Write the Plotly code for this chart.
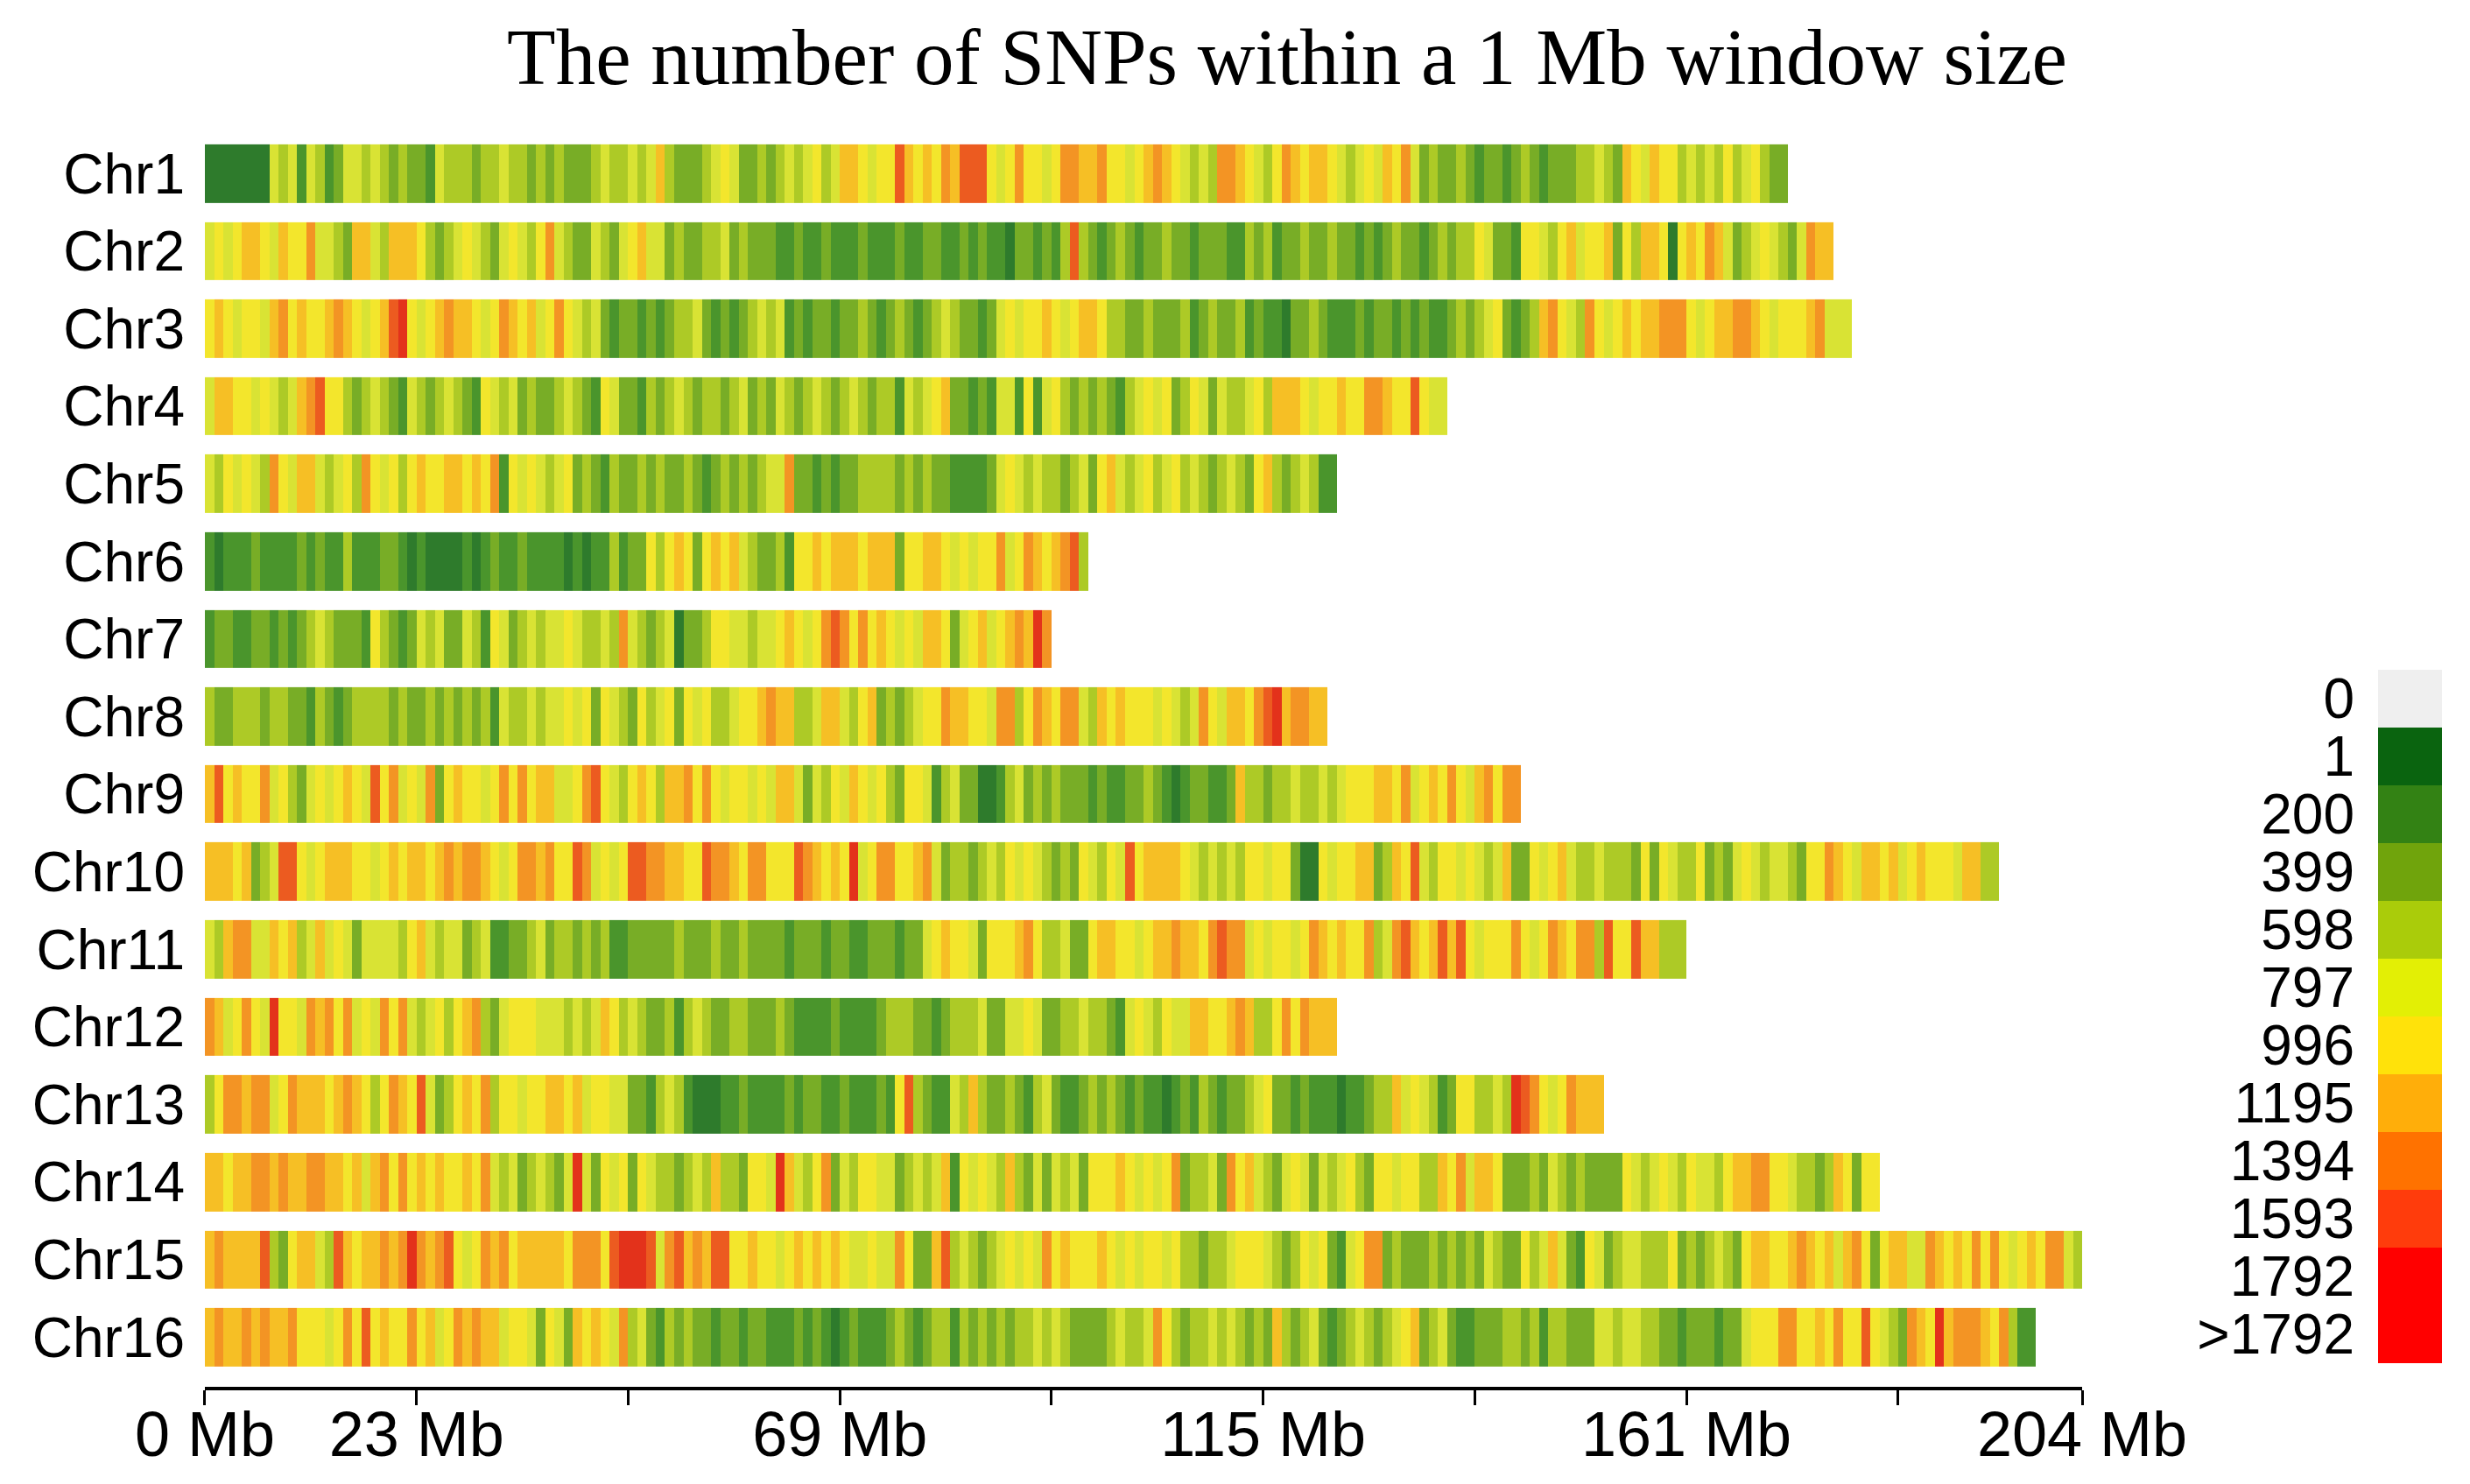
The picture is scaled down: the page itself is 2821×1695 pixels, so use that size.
import plotly.graph_objects as go

CHROMOSOMES = ["Chr1", "Chr2", "Chr3", "Chr4", "Chr5", "Chr6", "Chr7", "Chr8",
               "Chr9", "Chr10", "Chr11", "Chr12", "Chr13", "Chr14", "Chr15", "Chr16"]

# SNP-density class of every 1 Mb window, one character per window.
# 1 = 1-199, 2 = 200-398, 3 = 399-597, 4 = 598-796, 5 = 797-995, 6 = 996-1194,
# 7 = 1195-1393, 8 = 1394-1592, 9 = 1593-1791, a = 1792 and more
SNP_CLASSES = [
    "1111111545 2542355454 3433254443 4454434343 3345445457 4333456533 4345456457 7656697676 8799965686 6568877866 "
    "5678765454 8876546876 7765456576 8534334323 3234323334 4543765766 4545464564 33",
    "5656776576 6855437754 7776434565 4356546854 3354356755 3433445343 3322322322 2322232233 2232322133 2324943234 "
    "3233433233 3224342334 3343323234 3323434465 3326654675 6673647761 6768753456 5435877",
    "6765665786 7667876567 9a65678776 5687675686 5453233232 3445323234 5452323323 3432343234 5433235656 6765677644 "
    "3343334234 3342322133 4322232332 3232234345 6323478654 8656767788 8656778876 566678555",
    "5776656545 7896643454 3254345432 6545343345 4326533243 4543443453 4354345434 5434425456 7332325526 2564343432 "
    "4565634653 5445647776 5667668876 69655",
    "5465654865 7754564865 6467667767 6826565456 3432433434 3343234343 4558332323 3444434343 3222235654 5443453675 "
    "4564564543 4543674345 422",
    "2122232222 3232242223 3212111121 2322322221 2122423364 6763676754 3342667677 7677736677 6565668568 767894",
    "2332233232 3454333264 3235453354 2653454556 5445485434 5133466554 5567656898 6867656577 6356756787 a8",
    "4334443443 3243234444 3433434343 4254454556 5636543645 6365644566 7877445775 4673434566 8776658846 8768854767 "
    "6665654586 577689a788 77",
    "7967668564 3565676596 8565836766 5686867755 6896546764 7786865665 6577535465 7656436652 4533112453 4343332322 "
    "3343212332 2374434454 4545666776 8567686578 688",
    "7776734599 6567776656 7677678788 7656887866 9856569988 7766988768 8666987676 a568866785 3443454656 5434365465 "
    "9677776545 4546656631 1656677347 6954665654 5733656754 4544436365 4463435654 5543668765 7767567666 57744",
    "5478855767 4575653555 5467545534 5223345344 3434223333 3433343343 3332333233 2233323356 7665366678 6445336776 "
    "6567787768 9885656656 8767668458 9767979656 6686568768 8496697744 4",
    "8756865a66 5878685658 6854564678 4356665554 5457645433 4245433443 3343222232 2223444332 3444533556 5334454432 "
    "5654655776 6787446868 777",
    "4688788568 7776787646 8769534676 8466566776 7566553324 5421112232 2223233223 2223269432 2547433432 4532234343 "
    "2322123243 2334563323 2221223447 5654236644 54a9865687 77",
    "7767788787 7887767578 6867676676 8545345435 a536563654 4345474436 65a7546835 4665534545 7265654743 5354536667 "
    "6565683445 3867543565 3545643665 6644768577 6333435434 3333654565 4655467788 665443476366",
    "7877779436 7754976778 78a8789656 8786777776 88869aaa95 8978799667 6656767676 5565586337 9454345656 5867666765 "
    "6566564434 4566654346 5632568834 3334343435 4336457532 6534554446 3434543677 6678767578 6367755876 7686865676 "
    "8854",
    "7877878778 6665686967 6686756878 7756653653 7676584532 4343323323 3222323212 3222343234 4243434344 5454333345 "
    "4458643445 4543437434 5323454345 6734532233 3443424433 3554554433 2333233566 6886676866 96543876a7 888768422",
]

LEGEND_LABELS = ["0", "1", "200", "399", "598", "797", "996", "1195", "1394", "1593", "1792", ">1792"]
LEGEND_CLASSES = [0, 1, 2, 3, 4, 5, 6, 7, 8, 9, 10, 10]

AXIS_TICKS = [0, 23, 46, 69, 92, 115, 138, 161, 184, 204]
AXIS_LABELS = ["0 Mb", "23 Mb", "", "69 Mb", "", "115 Mb", "", "161 Mb", "", "204 Mb"]
AXIS_MAX = 204

# colours of the classes 1..10 as they appear in the bars, and in the key (0..10)
BAR_COLORS = ["#2e7b2c", "#4a952c", "#78ad26", "#adca26", "#d9e334",
              "#f3e62c", "#f6bf25", "#f39424", "#ec5b20", "#e3321b"]
KEY_COLORS = ["#efefef", "#0a640f", "#338214", "#70a40c", "#aacc0a", "#e3ef05",
              "#ffe20a", "#ffae0a", "#ff7200", "#ff3c0c", "#ff0000"]

SANS = "Liberation Sans, Arial, sans-serif"
SERIF = "Liberation Serif, Times New Roman, serif"


def discrete_scale(colors):
    n = len(colors)
    scale = []
    for i, c in enumerate(colors):
        scale.append([i / n, c])
        scale.append([(i + 1) / n, c])
    return scale


rows = []
for s in SNP_CLASSES:
    codes = [int(c, 16) for c in s.replace(" ", "")]
    rows.append(codes + [None] * (AXIS_MAX - len(codes)))

bins = [i + 0.5 for i in range(AXIS_MAX)]

fig = go.Figure()
fig.add_trace(go.Heatmap(
    x=bins,
    y=list(range(len(CHROMOSOMES))),
    z=rows,
    colorscale=discrete_scale(BAR_COLORS),
    zmin=0.5,
    zmax=10.5,
    ygap=22,
    showscale=False,
    hoverongaps=False,
))
fig.add_trace(go.Heatmap(
    x=[0],
    y=list(range(len(LEGEND_LABELS))),
    z=[[v] for v in LEGEND_CLASSES],
    colorscale=discrete_scale(KEY_COLORS),
    zmin=-0.5,
    zmax=10.5,
    showscale=False,
    xaxis="x2",
    yaxis="y2",
))

fig.update_layout(
    template="none",
    width=2821,
    height=1695,
    paper_bgcolor="white",
    plot_bgcolor="white",
    margin=dict(l=20, r=20, t=145, b=111, autoexpand=False),
    showlegend=False,
    title=dict(
        text="The number of SNPs within a 1 Mb window size",
        font=dict(family=SERIF, size=91, color="black"),
        xref="paper",
        x=0.5214,
        xanchor="center",
        y=0.962,
        yanchor="middle",
    ),
    xaxis=dict(
        domain=[0.07695, 0.84790],
        range=[0, AXIS_MAX],
        tickvals=AXIS_TICKS,
        ticktext=AXIS_LABELS,
        ticks="outside",
        ticklen=17,
        tickwidth=2.5,
        tickcolor="black",
        showline=True,
        linewidth=4,
        linecolor="black",
        showgrid=False,
        zeroline=False,
        automargin=False,
        tickfont=dict(family=SANS, size=72, color="black"),
        ticklabelstandoff=-28,
    ),
    yaxis=dict(
        range=[15.64, -0.6],
        tickvals=list(range(len(CHROMOSOMES))),
        ticktext=CHROMOSOMES,
        ticks="",
        showline=False,
        showgrid=False,
        zeroline=False,
        automargin=False,
        tickfont=dict(family=SANS, size=64, color="black"),
        ticklabelstandoff=22,
    ),
    xaxis2=dict(
        domain=[0.96944, 0.99569],
        anchor="y2",
        visible=False,
        automargin=False,
    ),
    yaxis2=dict(
        domain=[0.01876, 0.56915],
        anchor="x2",
        range=[11.5, -0.5],
        tickvals=list(range(len(LEGEND_LABELS))),
        ticktext=LEGEND_LABELS,
        ticks="",
        showline=False,
        showgrid=False,
        zeroline=False,
        automargin=False,
        tickfont=dict(family=SANS, size=64, color="black"),
        ticklabelstandoff=26,
    ),
)

# the page's default body margin would push the figure 8 px off the window
fig.write_html(
    "out.html",
    config={"displayModeBar": False},
    post_script="document.body.style.margin = '0';",
)
